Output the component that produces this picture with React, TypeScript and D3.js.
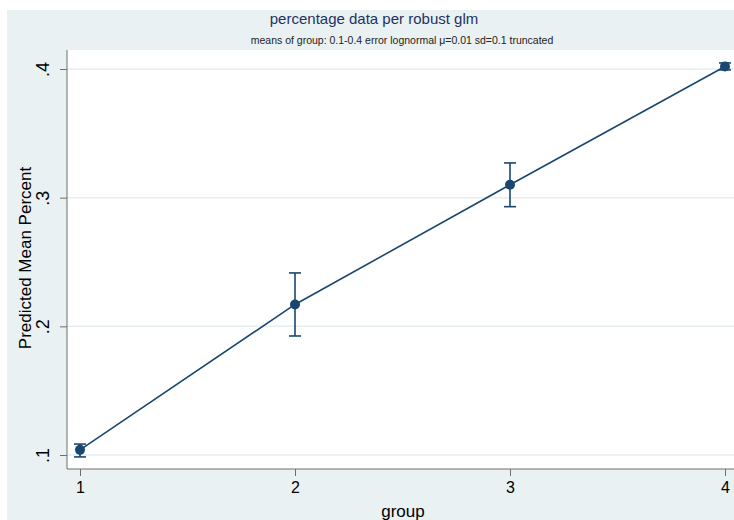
import React, { useEffect, useRef } from "react";
import * as d3 from "d3";

// values
const groups = [1, 2, 3, 4];
const means = [0.104, 0.217, 0.31, 0.402];
const lower = [0.0985, 0.1925, 0.293, 0.3993];
const upper = [0.1085, 0.2415, 0.327, 0.4047];
const yTickValues = [0.1, 0.2, 0.3, 0.4];
const yTickLabels = [".1", ".2", ".3", ".4"];

const W = 734;
const H = 520;

const App = () => {
  const svgRef = useRef<SVGSVGElement>(null);

  useEffect(() => {
    const svg = d3.select(svgRef.current);
    svg.selectAll("*").remove();

    const font = "'Liberation Sans', Arial, sans-serif";
    const navy = "#1a476f";

    // outer graph region
    svg.append("rect").attr("x", 0).attr("y", 0).attr("width", W).attr("height", H).attr("fill", "#ffffff");
    svg.append("rect").attr("x", 7).attr("y", 10).attr("width", W - 7).attr("height", H - 10).attr("fill", "#eaf1f3");

    const left = 67, top = 50, bottom = 469, right = W;

    const x = d3.scaleLinear().domain([1, 4]).range([80, 725]);
    const y = d3.scaleLinear().domain([0.1, 0.4]).range([455, 69]);

    // plot region
    svg.append("rect")
      .attr("x", left).attr("y", top)
      .attr("width", right - left).attr("height", bottom - top)
      .attr("fill", "#ffffff");

    // grid lines
    svg.append("g")
      .selectAll("line")
      .data(yTickValues)
      .enter()
      .append("line")
      .attr("x1", left).attr("x2", right)
      .attr("y1", (d) => y(d)).attr("y2", (d) => y(d))
      .attr("stroke", "#e6eef0").attr("stroke-width", 1.5);

    // axes
    const yAxis = svg.append("g")
      .attr("transform", `translate(${left},0)`)
      .call(d3.axisLeft(y).tickValues(yTickValues).tickSize(7).tickFormat((d, i) => yTickLabels[i]));
    yAxis.select(".domain").attr("stroke", "#6e6e6e").attr("d", `M0,${top}V${bottom}`);
    yAxis.selectAll(".tick line").attr("stroke", "#6e6e6e");
    yAxis.selectAll(".tick text")
      .attr("font-family", font).attr("font-size", 18).attr("fill", "#000")
      .attr("x", null).attr("dy", null)
      .attr("text-anchor", "middle")
      .attr("transform", "translate(-18,0) rotate(-90)");

    const xAxis = svg.append("g")
      .attr("transform", `translate(0,${bottom})`)
      .call(d3.axisBottom(x).tickValues(groups).tickSize(7).tickFormat(d3.format("d")));
    xAxis.select(".domain").attr("stroke", "#6e6e6e").attr("d", `M${left},0H${right}`);
    xAxis.selectAll(".tick line").attr("stroke", "#6e6e6e");
    xAxis.selectAll(".tick text")
      .attr("font-family", font).attr("font-size", 16).attr("fill", "#000")
      .attr("y", 13);

    // connecting line
    const line = d3.line<number>().x((d, i) => x(groups[i])).y((d) => y(d));
    svg.append("path")
      .datum(means)
      .attr("d", line)
      .attr("fill", "none")
      .attr("stroke", navy)
      .attr("stroke-width", 1.6);

    // error bars
    const eb = svg.append("g").attr("stroke", navy).attr("stroke-width", 1.6);
    groups.forEach((g, i) => {
      const cx = x(g);
      eb.append("line").attr("x1", cx).attr("x2", cx).attr("y1", y(lower[i])).attr("y2", y(upper[i]));
      eb.append("line").attr("x1", cx - 6).attr("x2", cx + 6).attr("y1", y(lower[i])).attr("y2", y(lower[i]));
      eb.append("line").attr("x1", cx - 6).attr("x2", cx + 6).attr("y1", y(upper[i])).attr("y2", y(upper[i]));
    });

    // markers
    svg.append("g")
      .selectAll("circle")
      .data(means)
      .enter()
      .append("circle")
      .attr("cx", (d, i) => x(groups[i]))
      .attr("cy", (d) => y(d))
      .attr("r", 5)
      .attr("fill", navy);

    // titles
    svg.append("text")
      .attr("x", 374).attr("y", 24)
      .attr("text-anchor", "middle")
      .attr("font-family", font).attr("font-size", 15)
      .attr("fill", "#1e3262")
      .text("percentage data per robust glm");
    svg.append("text")
      .attr("x", 402).attr("y", 44)
      .attr("text-anchor", "middle")
      .attr("font-family", font).attr("font-size", 10.5)
      .attr("fill", "#222")
      .text("means of group: 0.1-0.4 error lognormal \u03bc=0.01 sd=0.1 truncated");

    // axis titles
    svg.append("text")
      .attr("transform", `translate(31,258) rotate(-90)`)
      .attr("text-anchor", "middle")
      .attr("font-family", font).attr("font-size", 17)
      .attr("fill", "#000")
      .text("Predicted Mean Percent");
    svg.append("text")
      .attr("x", 403).attr("y", 517)
      .attr("text-anchor", "middle")
      .attr("font-family", font).attr("font-size", 17)
      .attr("fill", "#000")
      .text("group");
  }, []);

  return (
    <svg
      ref={svgRef}
      width={W}
      height={H}
      style={{ position: "absolute", left: 0, top: 0, display: "block" }}
    />
  );
};

export default App;
